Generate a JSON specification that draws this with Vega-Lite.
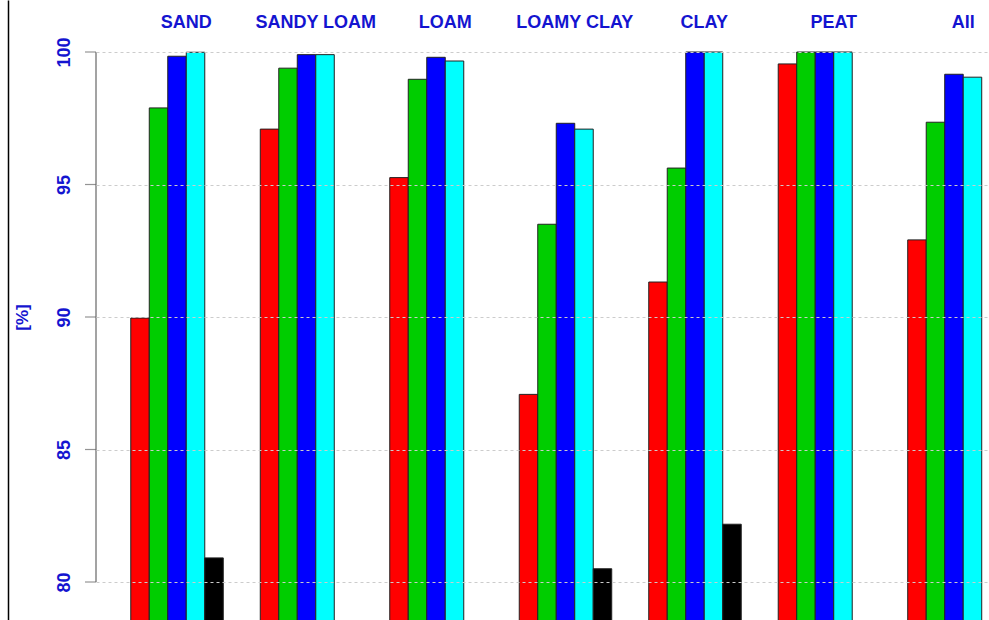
{
  "$schema": "https://vega.github.io/schema/vega-lite/v6.json",
  "width": 893,
  "height": 530,
  "autosize": {"type": "none"},
  "padding": {"left": 96, "top": 52, "right": 0, "bottom": 38},
  "background": "white",
  "data": {
    "values": [
      {"soil": "SAND", "series": "A", "value": 89.96},
      {"soil": "SAND", "series": "B", "value": 97.89},
      {"soil": "SAND", "series": "C", "value": 99.84},
      {"soil": "SAND", "series": "D", "value": 99.99},
      {"soil": "SAND", "series": "E", "value": 80.91},
      {"soil": "SANDY LOAM", "series": "A", "value": 97.09},
      {"soil": "SANDY LOAM", "series": "B", "value": 99.39},
      {"soil": "SANDY LOAM", "series": "C", "value": 99.9},
      {"soil": "SANDY LOAM", "series": "D", "value": 99.9},
      {"soil": "LOAM", "series": "A", "value": 95.26},
      {"soil": "LOAM", "series": "B", "value": 98.97},
      {"soil": "LOAM", "series": "C", "value": 99.8},
      {"soil": "LOAM", "series": "D", "value": 99.66},
      {"soil": "LOAMY CLAY", "series": "A", "value": 87.08},
      {"soil": "LOAMY CLAY", "series": "B", "value": 93.5},
      {"soil": "LOAMY CLAY", "series": "C", "value": 97.31},
      {"soil": "LOAMY CLAY", "series": "D", "value": 97.09},
      {"soil": "LOAMY CLAY", "series": "E", "value": 80.5},
      {"soil": "CLAY", "series": "A", "value": 91.32},
      {"soil": "CLAY", "series": "B", "value": 95.62},
      {"soil": "CLAY", "series": "C", "value": 100},
      {"soil": "CLAY", "series": "D", "value": 100},
      {"soil": "CLAY", "series": "E", "value": 82.18},
      {"soil": "PEAT", "series": "A", "value": 99.55},
      {"soil": "PEAT", "series": "B", "value": 100},
      {"soil": "PEAT", "series": "C", "value": 100},
      {"soil": "PEAT", "series": "D", "value": 100},
      {"soil": "All", "series": "A", "value": 92.91},
      {"soil": "All", "series": "B", "value": 97.35},
      {"soil": "All", "series": "C", "value": 99.16},
      {"soil": "All", "series": "D", "value": 99.05}
    ]
  },
  "resolve": {
    "scale": {"x": "independent", "y": "independent"},
    "axis": {"x": "independent", "y": "independent"}
  },
  "layer": [
    {
      "mark": {"type": "bar", "stroke": "#222222", "strokeWidth": 1, "clip": false},
      "encoding": {
        "x": {
          "field": "soil",
          "type": "nominal",
          "sort": ["SAND", "SANDY LOAM", "LOAM", "LOAMY CLAY", "CLAY", "PEAT", "All"],
          "scale": {"range": [0, 939], "paddingInner": 0.2857, "paddingOuter": 0.2686},
          "axis": {
            "orient": "top",
            "title": null,
            "ticks": false,
            "tickSize": 0,
            "domain": false,
            "labelAngle": 0,
            "labelOffset": 9.25,
            "labelPadding": 25,
            "labelBaseline": "alphabetic",
            "labelFont": "Liberation Sans",
            "labelFontSize": 18,
            "labelFontWeight": "bold",
            "labelColor": "#1414d0"
          }
        },
        "xOffset": {
          "field": "series",
          "type": "nominal",
          "sort": ["A", "B", "C", "D", "E"],
          "scale": {"paddingInner": 0, "paddingOuter": 0}
        },
        "y": {
          "field": "value",
          "type": "quantitative",
          "scale": {"domain": [80, 100], "zero": false, "nice": false},
          "axis": {
            "orient": "left",
            "title": "[%]",
            "values": [80, 85, 90, 95, 100],
            "zindex": 1,
            "grid": true,
            "gridColor": "#cccccc",
            "gridDash": [3, 3],
            "gridWidth": 1,
            "domain": false,
            "ticks": false,
            "labelAngle": 270,
            "labelAlign": "center",
            "labelBaseline": "bottom",
            "labelPadding": 23,
            "labelFont": "Liberation Sans",
            "labelFontSize": 18,
            "labelFontWeight": "bold",
            "labelColor": "#1414d0",
            "titleFont": "Liberation Sans",
            "titleFontSize": 17,
            "titleFontWeight": "bold",
            "titleColor": "#1414d0",
            "titleAngle": 270,
            "titleAlign": "center",
            "titleBaseline": "middle",
            "titleX": -74,
            "titleY": 265
          }
        },
        "y2": {"datum": 0},
        "color": {
          "field": "series",
          "type": "nominal",
          "scale": {"domain": ["A", "B", "C", "D", "E"], "range": ["#ff0000", "#00cd00", "#0000ff", "#00ffff", "#000000"]},
          "legend": null
        }
      }
    },
    {
      "data": {"values": [{"from": 80, "to": 100}]},
      "mark": {"type": "rule", "color": "#666666", "strokeWidth": 1.2, "clip": false},
      "encoding": {
        "x": {"datum": 0, "type": "quantitative", "scale": {"domain": [0, 1], "nice": false, "zero": false}, "axis": null},
        "y": {"field": "from", "type": "quantitative", "scale": {"domain": [80, 100], "zero": false, "nice": false}, "axis": null},
        "y2": {"field": "to"}
      }
    },
    {
      "data": {"values": [{"tick": 80}, {"tick": 85}, {"tick": 90}, {"tick": 95}, {"tick": 100}]},
      "mark": {"type": "tick", "orient": "horizontal", "color": "#666666", "size": 11, "thickness": 1.2, "xOffset": -5.5, "clip": false},
      "encoding": {
        "x": {"datum": 0, "type": "quantitative", "scale": {"domain": [0, 1], "nice": false, "zero": false}, "axis": null},
        "y": {"field": "tick", "type": "quantitative", "scale": {"domain": [80, 100], "zero": false, "nice": false}, "axis": null}
      }
    },
    {
      "mark": {"type": "text", "text": ""},
      "encoding": {
        "x": {"field": "soil", "type": "nominal", "axis": null},
        "y": {
          "field": "value",
          "type": "quantitative",
          "scale": {"domain": [80, 100], "zero": false, "nice": false, "range": [568, -52]},
          "axis": {
            "orient": "left",
            "offset": 88,
            "title": null,
            "labels": false,
            "ticks": false,
            "grid": false,
            "domain": true,
            "domainColor": "#000000",
            "domainWidth": 1.5
          }
        }
      }
    }
  ],
  "config": {"view": {"stroke": null}}
}
